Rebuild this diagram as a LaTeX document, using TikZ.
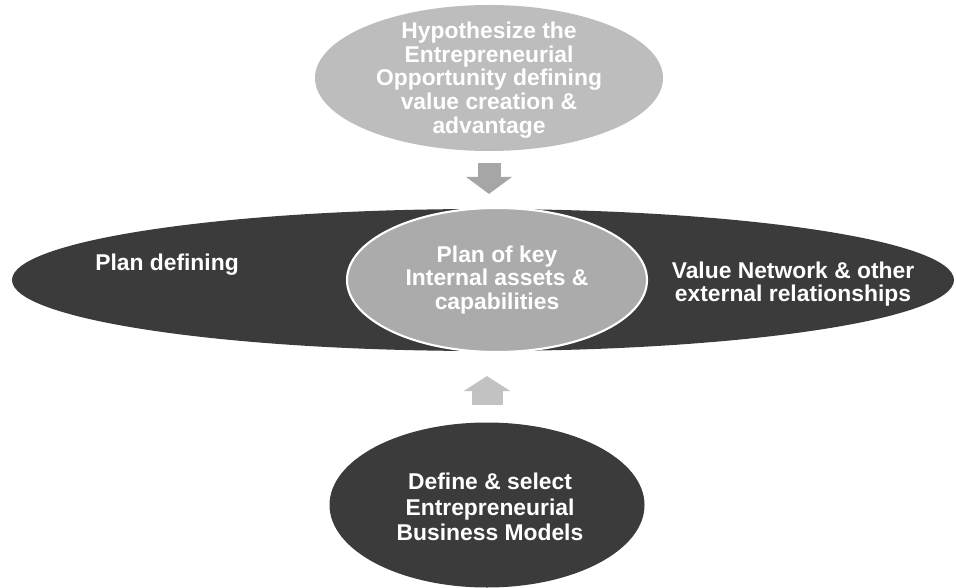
\documentclass[tikz,border=0pt]{standalone}
\usepackage{fontspec}
\setmainfont{Liberation Sans}
\usetikzlibrary{arrows.meta,shapes.geometric}
\definecolor{bmdark}{HTML}{3B3B3B}
\definecolor{bmmid}{HTML}{ABABAB}
\definecolor{bmlight}{HTML}{BDBDBD}
\definecolor{bmarrow}{HTML}{A6A6A6}
\definecolor{bmarrowup}{HTML}{C2C2C2}

\begin{document}
\begin{tikzpicture}[
  oval/.style={ellipse,inner sep=0pt,draw=none},
  txt/.style={align=center,text=white,font=\bfseries\fontsize{13}{13.5}\selectfont},
  blockarrow/.style={line width=0.46cm,draw=bmarrow,-{Triangle[width=0.9cm,length=0.34cm]}}
]
\useasboundingbox (0,0) rectangle (19.12,-11.76);
\clip (0,0) rectangle (19.12,-11.76);

% opportunity on top
\node[oval,fill=bmlight,minimum width=6.96cm,minimum height=2.92cm] (hypo) at (9.78,-1.56) {};
\node[txt] (hypotext) at (9.78,-1.6) {Hypothesize the\\Entrepreneurial\\Opportunity defining\\value creation \&\\advantage};

% wide plan band with the internal plan in its middle
\node[oval,fill=bmdark,minimum width=18.84cm,minimum height=2.84cm] (band) at (9.66,-5.6) {};
\node[oval,fill=bmmid,draw=white,line width=1.2pt,minimum width=6.0cm,minimum height=2.88cm] (plan) at (9.94,-5.6) {};
\node[txt] (plantext) at (plan) {Plan of key\\Internal assets \&\\capabilities};
\node[txt] (planleft) at (3.34,-5.3) {Plan defining};
\node[txt] (planright) at (15.86,-5.68) {Value Network \& other\\external relationships};

% business models at the foot
\node[oval,fill=bmdark,minimum width=6.3cm,minimum height=3.3cm] (models) at (9.74,-10.1) {};
\node[txt,font=\bfseries\fontsize{13}{14.5}\selectfont] (modelstext) at (9.8,-10.14) {Define \& select\\Entrepreneurial\\Business Models};

% block arrows into the plan
\draw[blockarrow,shorten <=0.24cm,shorten >=0.26cm] (hypo.south) -- (hypo.south |- plan.north);
\draw[blockarrow,draw=bmarrowup,line width=0.62cm,-{Triangle[width=0.92cm,length=0.3cm]},shorten <=0.34cm,shorten >=0.46cm] (models.north) -- (models.north |- plan.south);
\end{tikzpicture}
\end{document}
